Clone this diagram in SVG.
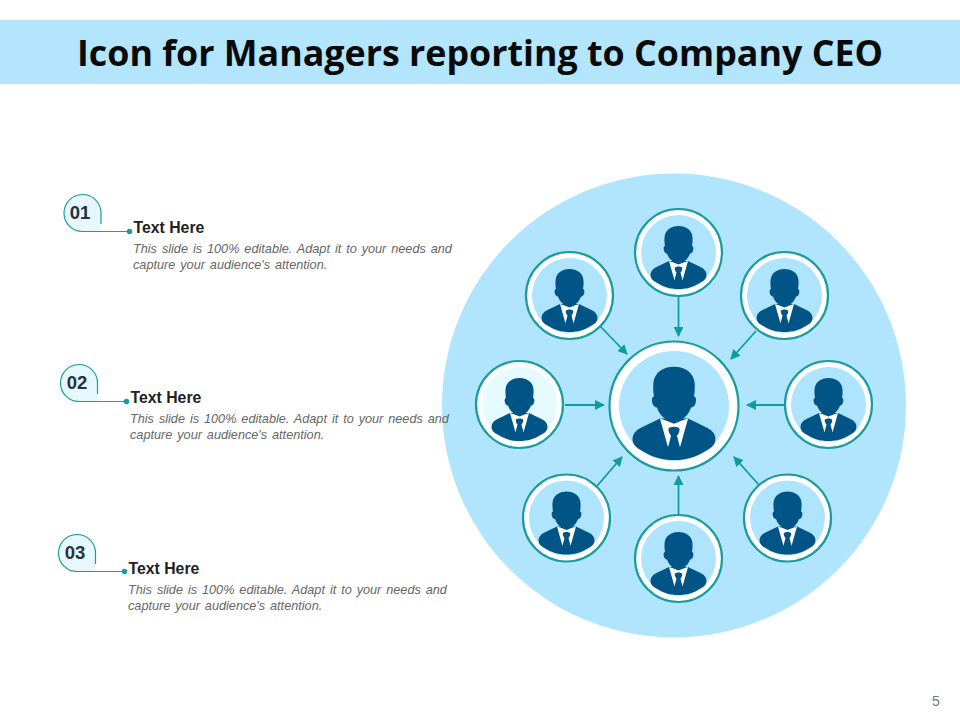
<svg xmlns="http://www.w3.org/2000/svg" width="960" height="720" viewBox="0 0 960 720">
<style>
.title{font:700 35.800px "Open Sans",sans-serif;fill:#0a0a0a}
.num{font:700 18.500px "Liberation Sans",Arial,sans-serif;fill:#26323d}
.head{font:700 15.800px "Liberation Sans",Arial,sans-serif;fill:#222}
.body{font:italic 12.700px "Liberation Sans",Arial,sans-serif;fill:#666;word-spacing:1.400px}
.page{font:14px "Liberation Sans",Arial,sans-serif;fill:#777}
.ring{fill:#fff;stroke:#1a9c9c;stroke-width:2.200}
.inner{fill:#aee4fd}
.inner-l{fill:#e6fbff}
.conn{stroke:#0f9c9f;stroke-width:1.800;fill:none;marker-end:url(#arr)}
.callout{fill:#e6f7fd}
.lead{stroke:#1a9c9c;stroke-width:1.200;fill:none}
.dot{fill:#1a9c9c}
</style>
<defs>
<marker id="arr" viewBox="0 0 10 10" refX="9" refY="5" markerWidth="5.500" markerHeight="5.500" orient="auto" markerUnits="strokeWidth"><path d="M0,0L10,5L0,10z" fill="#0f9c9f"/></marker>
<g id="person">
<path fill="#005586" d="M-9.500,8.500L-22,14.500C-26,16.500-28,19-28,22.500C-28,25.500-26,28-22,30C-15,34.500-8,36.500 0,36.500C8,36.500 15,34.500 22,30C26,28 28,25.500 28,22.500C28,19 26,16.500 22,14.500L9.500,8.500Z"/>
<path fill="#fff" d="M-9.500,8.500L-4,28L-2.500,24L2.500,24L4,28L9.500,8.500L5,10L0,12L-5,10Z"/>
<path fill="#005586" d="M-3.800,15.500C-3,13.500 3,13.500 3.800,15.500C3.800,17.500 2.800,19 2,20L4,28L3.500,33L-3.500,33L-4,28L-2,20C-2.800,19-3.800,17.500-3.800,15.500Z"/>
<path fill="#005586" d="M0,-26.500C-7.500,-26.500-13.500,-22.500-14,-15C-14.200,-11-13.800,-8-13.500,-6.500C-15.200,-6.500-15.200,-3-14.200,-1C-13.500,0.500-12.500,1-11.500,1C-10,6-5.500,10.500 0,10.500C5.500,10.500 10,6 11.500,1C12.500,1 13.500,0.500 14.200,-1C15.200,-3 15.200,-6.500 13.500,-6.500C13.800,-8 14.200,-11 14,-15C13.500,-22.500 7.500,-26.500 0,-26.500Z"/>
</g>
</defs>
<rect width="960" height="720" fill="#fff"/>
<g id="header">
<rect x="0" y="20" width="960" height="64" fill="#b3e5fc"/>
<text class="title" x="480" y="66" text-anchor="middle">Icon for Managers reporting to Company CEO</text>
</g>
<circle id="backdrop" cx="674" cy="405.500" r="232" fill="#b0e5fd"/>
<g id="connectors">
<line class="conn" x1="678.500" y1="296" x2="678.500" y2="336"/>
<line class="conn" x1="600" y1="326" x2="627" y2="354"/>
<line class="conn" x1="756" y1="331" x2="731" y2="359"/>
<line class="conn" x1="565" y1="405" x2="604" y2="405"/>
<line class="conn" x1="785" y1="405" x2="747" y2="405"/>
<line class="conn" x1="597" y1="486" x2="622" y2="457"/>
<line class="conn" x1="678.500" y1="515" x2="678.500" y2="476"/>
<line class="conn" x1="759" y1="485" x2="734" y2="457"/>
</g>
<g id="node-ceo"><circle class="ring" cx="674" cy="406" r="64.500"/><circle class="inner" cx="674" cy="406" r="55"/><use href="#person" transform="translate(674 406) scale(1.48)"/></g>
<g id="node-top"><circle class="ring" cx="678.500" cy="252.500" r="43.500"/><circle class="inner" cx="678.500" cy="252.500" r="37.500"/><use href="#person" transform="translate(678.500 252.500)"/></g>
<g id="node-top-left"><circle class="ring" cx="569.500" cy="295.500" r="43.500"/><circle class="inner" cx="569.500" cy="295.500" r="37.500"/><use href="#person" transform="translate(569.500 295.500)"/></g>
<g id="node-top-right"><circle class="ring" cx="784.500" cy="295.500" r="43.500"/><circle class="inner" cx="784.500" cy="295.500" r="37.500"/><use href="#person" transform="translate(784.500 295.500)"/></g>
<g id="node-left"><circle class="ring" cx="519.500" cy="404.500" r="43.500"/><circle class="inner-l" cx="519.500" cy="404.500" r="37.500"/><use href="#person" transform="translate(519.500 404.500)"/></g>
<g id="node-right"><circle class="ring" cx="828.500" cy="404.500" r="43.500"/><circle class="inner" cx="828.500" cy="404.500" r="37.500"/><use href="#person" transform="translate(828.500 404.500)"/></g>
<g id="node-bottom-left"><circle class="ring" cx="566.500" cy="518" r="43.500"/><circle class="inner" cx="566.500" cy="518" r="37.500"/><use href="#person" transform="translate(566.500 518)"/></g>
<g id="node-bottom"><circle class="ring" cx="678.500" cy="558.500" r="43.500"/><circle class="inner" cx="678.500" cy="558.500" r="37.500"/><use href="#person" transform="translate(678.500 558.500)"/></g>
<g id="node-bottom-right"><circle class="ring" cx="787.500" cy="518" r="43.500"/><circle class="inner" cx="787.500" cy="518" r="37.500"/><use href="#person" transform="translate(787.500 518)"/></g>
<g id="item-01">
<path class="callout" d="M101,224V212.500A18.500,18.500 0 1 0 82.500,231.500H101Z"/>
<path class="lead" d="M101,224V212.500A18.500,18.500 0 1 0 82.500,231.500H129"/>
<circle class="dot" cx="129.500" cy="231.500" r="2.700"/>
<text class="num" x="80" y="218.500" text-anchor="middle">01</text>
<text class="head" x="133.500" y="232.500">Text Here</text>
<text class="body" x="133" y="253">This slide is 100% editable. Adapt it to your needs and</text>
<text class="body" x="133" y="269">capture your audience's attention.</text>
</g>
<g id="item-02">
<path class="callout" d="M97.500,394V382.500A18.500,18.500 0 1 0 79,401.500H97.500Z"/>
<path class="lead" d="M97.500,394V382.500A18.500,18.500 0 1 0 79,401.500H126"/>
<circle class="dot" cx="126.500" cy="401.500" r="2.700"/>
<text class="num" x="77" y="388.500" text-anchor="middle">02</text>
<text class="head" x="130.500" y="402.500">Text Here</text>
<text class="body" x="130" y="423">This slide is 100% editable. Adapt it to your needs and</text>
<text class="body" x="130" y="439">capture your audience's attention.</text>
</g>
<g id="item-03">
<path class="callout" d="M95.500,564V552.500A18.500,18.500 0 1 0 77,571.500H95.500Z"/>
<path class="lead" d="M95.500,564V552.500A18.500,18.500 0 1 0 77,571.500H124"/>
<circle class="dot" cx="124.500" cy="571.500" r="2.700"/>
<text class="num" x="75" y="558.500" text-anchor="middle">03</text>
<text class="head" x="128.500" y="573.500">Text Here</text>
<text class="body" x="128" y="594">This slide is 100% editable. Adapt it to your needs and</text>
<text class="body" x="128" y="610">capture your audience's attention.</text>
</g>
<text class="page" x="932" y="706">5</text>
</svg>
